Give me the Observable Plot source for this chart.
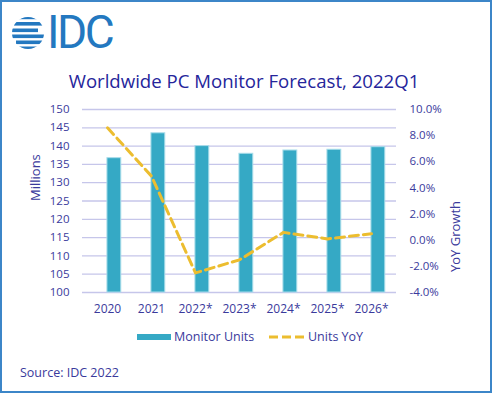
<!DOCTYPE html>
<html>
<head>
<meta charset="utf-8">
<script src="https://cdn.jsdelivr.net/npm/d3@7"></script>
<script src="https://cdn.jsdelivr.net/npm/@observablehq/plot@0.6"></script>
<style>
  html, body { margin: 0; padding: 0; background: #fff; }
  #wrap { position: relative; width: 492px; height: 394px; overflow: hidden; font-family: "Open Sans", sans-serif; }
  #border { position: absolute; left: 0; top: 0; width: 488px; height: 389px; border: 2px solid #3c86c8; box-sizing: content-box; }
  #chart { position: absolute; left: 0; top: 0; }
  .abs { position: absolute; white-space: nowrap; }
  #title { left: 0; width: 488px; top: 68px; text-align: center; font-size: 18.6px; color: #25259b; }
  .leg { font-size: 12.5px; color: #3a3a9c; top: 328px; }
  #source { left: 20px; top: 364px; font-size: 12.5px; color: #3a3a9c; }
  #idc { left: 47px; top: 4px; font-family: Roboto, sans-serif; font-size: 46px; line-height: 56px; color: #2378c0; letter-spacing: -2.5px; }
</style>
</head>
<body>
<div id="wrap">
  <div id="chart"></div>
  <svg class="abs" style="left:10px;top:12px" width="38" height="42" viewBox="0 0 38 42">
    <defs>
      <clipPath id="gc"><circle cx="18" cy="21" r="16"/></clipPath>
    </defs>
    <g clip-path="url(#gc)" fill="#2378c0">
      <rect x="0" y="4" width="36" height="3.2"/>
      <rect x="4" y="10" width="32" height="3.6"/>
      <rect x="0" y="16.5" width="28" height="3.6"/>
      <rect x="2" y="22.5" width="34" height="3.6"/>
      <rect x="6" y="28.5" width="30" height="3.6"/>
      <rect x="0" y="34.5" width="36" height="3.2"/>
    </g>
  </svg>
  <div id="idc" class="abs">IDC</div>
  <div id="title" class="abs">Worldwide PC Monitor Forecast, 2022Q1</div>
  <div class="abs" style="left:137px;top:334px;width:34px;height:6px;background:#35a9c5;"></div>
  <div class="abs leg" style="left:174px;">Monitor Units</div>
  <svg class="abs" style="left:269px;top:334px" width="36" height="6"><line x1="0" y1="3" x2="35" y2="3" stroke="#ecbd2f" stroke-width="3" stroke-dasharray="9,4"/></svg>
  <div class="abs leg" style="left:308px;">Units YoY</div>
  <div id="source" class="abs">Source: IDC 2022</div>
  <div id="border"></div>
</div>
<script>
const years = ["2020", "2021", "2022*", "2023*", "2024*", "2025*", "2026*"];
const units = [136.7, 143.5, 140.0, 137.9, 138.8, 139.0, 139.7];
const yoy = [8.6, 4.9, -2.5, -1.5, 0.6, 0.1, 0.5];
const leftTicks = [100, 105, 110, 115, 120, 125, 130, 135, 140, 145, 150];
const rightTicks = [-4, -2, 0, 2, 4, 6, 8, 10];

const leftDomain = [100, 150];
const rightDomain = [-4, 10];
const toY = p => leftDomain[0] + (p - rightDomain[0]) * (leftDomain[1] - leftDomain[0]) / (rightDomain[1] - rightDomain[0]);
const fromY = v => rightDomain[0] + (v - leftDomain[0]) * (rightDomain[1] - rightDomain[0]) / (leftDomain[1] - leftDomain[0]);

const data = years.map((y, i) => ({year: y, units: units[i], yoy: yoy[i]}));

const textColor = "#3a3a9c";
const W = 492, H = 394;
const mL = 82, mR = 96, mT = 109, mB = 102;
const bw = (W - mL - mR) / years.length;

const chart = Plot.plot({
  width: W, height: H,
  marginLeft: mL, marginRight: mR, marginTop: mT, marginBottom: mB,
  style: {fontFamily: "'Open Sans', sans-serif", fontSize: "11.5px", color: textColor, background: "transparent"},
  x: {type: "band", domain: years, padding: 0, axis: null},
  y: {domain: leftDomain, axis: null},
  marks: [
    Plot.ruleY(leftTicks, {stroke: "#c6c6ea", strokeWidth: 1.3}),
    Plot.barY(data, {x: "year", y1: leftDomain[0], y2: "units", fill: "#35a9c5", stroke: "#a8dcea", strokeWidth: 1,
      insetLeft: bw / 2 - 0.5, insetRight: bw / 2 - 14.2}),
    Plot.lineY(data, {x: "year", y: d => toY(d.yoy), stroke: "#ecbd2f", strokeWidth: 3, strokeDasharray: "9,5"}),
    Plot.axisY({anchor: "left", ticks: leftTicks, tickSize: 0, tickPadding: 13, label: null, fill: textColor, fontSize: 11.5}),
    Plot.axisY({anchor: "right", ticks: rightTicks.map(toY), tickSize: 0, tickPadding: 13, label: null, fill: textColor, fontSize: 11.5,
      tickFormat: v => (Math.round(fromY(v) * 10) / 10 + 0).toFixed(1) + "%"}),
    Plot.axisX({anchor: "bottom", tickSize: 0, tickPadding: 12, label: null, fill: textColor, fontSize: 12}),
    Plot.text(["Millions"], {frameAnchor: "left", dx: -47, rotate: -90, fill: textColor, fontSize: 13}),
    Plot.text(["YoY Growth"], {frameAnchor: "right", dx: 59, rotate: -90, fill: textColor, fontSize: 13})
  ]
});
document.getElementById("chart").appendChild(chart);
</script>
</body>
</html>
